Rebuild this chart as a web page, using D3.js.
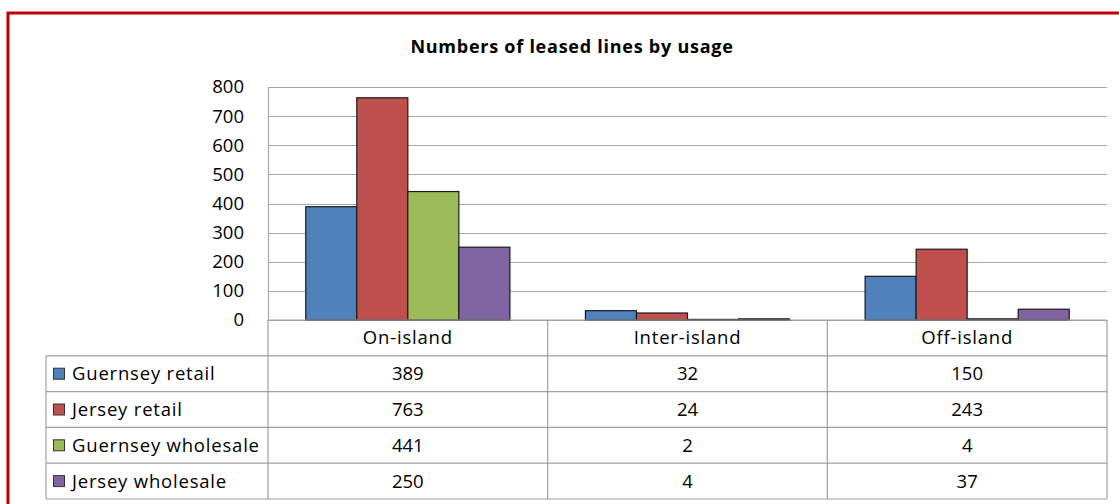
<!DOCTYPE html>
<html><head><meta charset="utf-8">
<script src="https://cdn.jsdelivr.net/npm/d3@7"></script>
<style>body{margin:0;background:#fff;}svg{display:block;font-family:"Open Sans",sans-serif;}</style>
</head><body><svg id="c" width="1119" height="504"></svg>
<script>
const categories = ["On-island", "Inter-island", "Off-island"];
const seriesNames = ["Guernsey retail", "Jersey retail", "Guernsey wholesale", "Jersey wholesale"];
const guernseyRetail = [389, 32, 150];
const jerseyRetail = [763, 24, 243];
const guernseyWholesale = [441, 2, 4];
const jerseyWholesale = [250, 4, 37];
const yTicks = [0, 100, 200, 300, 400, 500, 600, 700, 800];
const colors = ["#4F81BD", "#C0504D", "#9BBB59", "#8064A2"];
const title = "Numbers of leased lines by usage";

const values = [guernseyRetail, jerseyRetail, guernseyWholesale, jerseyWholesale];
const svg = d3.select("#c");
const L = 268, R = 1107, T = 87, B = 320;
const rowH = 35.8, tableLeft = 46;
const FS = 18.5, LS = 0.8;

svg.append("rect").attr("x", 8).attr("y", 13).attr("width", 1140).attr("height", 520)
  .attr("fill", "none").attr("stroke", "#C00000").attr("stroke-width", 3);

svg.append("text").attr("x", 572).attr("y", 53).attr("text-anchor", "middle")
  .attr("font-size", 18).attr("letter-spacing", 0.75).attr("font-weight", "bold").attr("fill", "#000").text(title);

const x = d3.scaleBand().domain(categories).range([L, R]);
const xs = d3.scaleBand().domain(seriesNames).range([0, x.bandwidth()]).paddingOuter(0.74).paddingInner(0);
const y = d3.scaleLinear().domain([0, 800]).range([B, T]);

svg.append("g").selectAll("line").data(yTicks).join("line")
  .attr("x1", L).attr("x2", R).attr("y1", d => Math.round(y(d)) + 0.5).attr("y2", d => Math.round(y(d)) + 0.5)
  .attr("stroke", "#A6A6A6").attr("stroke-width", 1.2);
svg.append("line").attr("x1", L + 0.5).attr("x2", L + 0.5).attr("y1", T).attr("y2", B).attr("stroke", "#A6A6A6").attr("stroke-width", 1.2);

const yAxis = d3.axisLeft(y).tickValues(yTicks).tickSize(0).tickPadding(24);
const ya = svg.append("g").attr("transform", `translate(${L},0)`).call(yAxis);
ya.select(".domain").remove();
ya.selectAll("text").attr("font-size", FS).attr("fill", "#000").attr("font-family", "'Open Sans',sans-serif");

seriesNames.forEach((s, i) => {
  svg.append("g").selectAll("rect").data(categories).join("rect")
    .attr("x", c => x(c) + xs(s))
    .attr("y", (c, j) => y(values[i][j]))
    .attr("width", xs.bandwidth())
    .attr("height", (c, j) => B - y(values[i][j]))
    .attr("fill", colors[i]).attr("stroke", "#1a1a1a").attr("stroke-width", 1.2);
});

const tg = svg.append("g");
const gridC = "#A0A0A0";
const rowsY = d3.range(6).map(k => B + k * rowH);
rowsY.forEach((ry, k) => {
  tg.append("line").attr("x1", k === 0 ? L : tableLeft).attr("x2", R)
    .attr("y1", ry).attr("y2", ry).attr("stroke", gridC).attr("stroke-width", 1.2);
});
[L, ...categories.map(c => x(c) + x.bandwidth())].forEach(vx => {
  tg.append("line").attr("x1", vx).attr("x2", vx).attr("y1", B).attr("y2", rowsY[5]).attr("stroke", gridC).attr("stroke-width", 1.2);
});
tg.append("line").attr("x1", tableLeft).attr("x2", tableLeft).attr("y1", rowsY[1]).attr("y2", rowsY[5]).attr("stroke", gridC).attr("stroke-width", 1.2);

tg.selectAll("text.h").data(categories).join("text").attr("class", "h")
  .attr("x", c => x(c) + x.bandwidth() / 2).attr("y", B + rowH / 2 + 6.5)
  .attr("text-anchor", "middle").attr("font-size", FS).attr("letter-spacing", LS).attr("fill", "#000").text(c => c);

seriesNames.forEach((s, i) => {
  const ry = rowsY[i + 1];
  tg.append("rect").attr("x", 53.5).attr("y", ry + rowH / 2 - 5.5).attr("width", 11).attr("height", 11)
    .attr("fill", colors[i]).attr("stroke", "#333").attr("stroke-width", 1);
  tg.append("text").attr("x", 72).attr("y", ry + rowH / 2 + 6.5).attr("font-size", FS).attr("letter-spacing", LS).attr("fill", "#000").text(s);
  tg.selectAll(null).data(categories).join("text")
    .attr("x", c => x(c) + x.bandwidth() / 2).attr("y", ry + rowH / 2 + 6.5)
    .attr("text-anchor", "middle").attr("font-size", FS).attr("fill", "#000")
    .text((c, j) => values[i][j]);
});
</script></body></html>
